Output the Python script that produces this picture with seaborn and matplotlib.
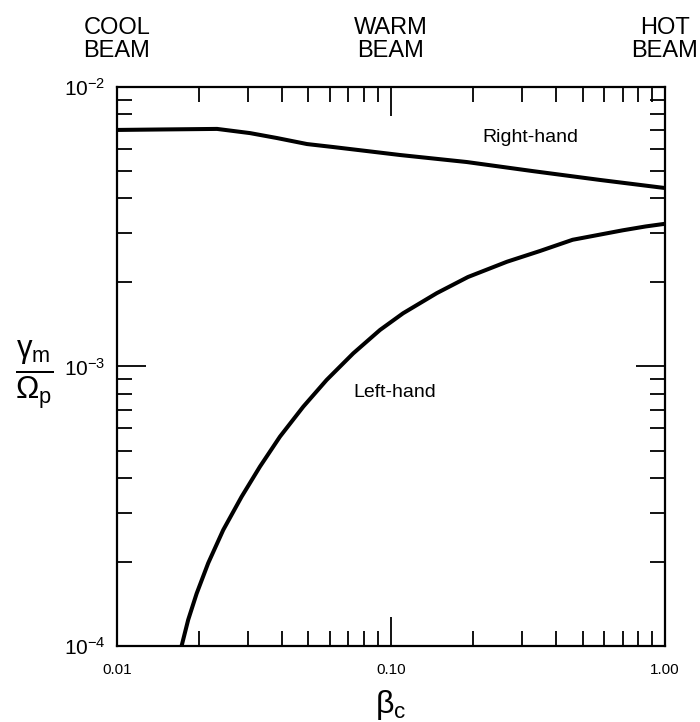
import numpy as np
import pandas as pd
import matplotlib
matplotlib.use("Agg")
import matplotlib.pyplot as plt
from matplotlib.ticker import FixedLocator, LogLocator, NullFormatter
import seaborn as sns

# Maximum growth rate versus beam temperature for the two polarisations
beta_right = [0.01, 0.015, 0.0232, 0.0306, 0.0383, 0.0494, 0.0614, 0.0817,
              0.108, 0.189, 0.330, 0.579, 1.0]
gamma_right = [7.02e-3, 7.05e-3, 7.08e-3, 6.84e-3, 6.57e-3, 6.25e-3, 6.10e-3,
               5.90e-3, 5.71e-3, 5.39e-3, 5.00e-3, 4.65e-3, 4.35e-3]

beta_left = [0.01722, 0.0182, 0.01954, 0.02154, 0.02443, 0.02851, 0.03325,
             0.03935, 0.04786, 0.05825, 0.07283, 0.0912, 0.1107, 0.147,
             0.191, 0.265, 0.35, 0.46, 0.70, 0.85, 1.0]
gamma_left = [1.0e-4, 1.24e-4, 1.54e-4, 1.98e-4, 2.60e-4, 3.42e-4, 4.38e-4,
              5.61e-4, 7.18e-4, 8.95e-4, 1.114e-3, 1.351e-3, 1.55e-3, 1.83e-3,
              2.09e-3, 2.37e-3, 2.59e-3, 2.84e-3, 3.07e-3, 3.17e-3, 3.24e-3]

x_ticks = [0.01, 0.1, 1.0]
x_tick_labels = ["0.01", "0.10", "1.00"]
y_ticks = [1e-4, 1e-3, 1e-2]
y_tick_labels = [r"$10^{-4}$", r"$10^{-3}$", r"$10^{-2}$"]
regime_labels = ["COOL\nBEAM", "WARM\nBEAM", "HOT\nBEAM"]

df = pd.concat([
    pd.DataFrame({"beta": beta_right, "gamma": gamma_right, "mode": "Right-hand"}),
    pd.DataFrame({"beta": beta_left, "gamma": gamma_left, "mode": "Left-hand"}),
], ignore_index=True)

sns.set_theme(style="ticks")
plt.rcParams["font.family"] = ["Liberation Sans", "DejaVu Sans"]
plt.rcParams["mathtext.fontset"] = "custom"
plt.rcParams["mathtext.rm"] = "Liberation Sans"
plt.rcParams["mathtext.it"] = "Liberation Sans"
plt.rcParams["mathtext.bf"] = "Liberation Sans:bold"
for key in ["text.color", "axes.labelcolor", "xtick.color", "ytick.color",
            "axes.edgecolor"]:
    plt.rcParams[key] = "black"

fig = plt.figure(figsize=(7.0, 7.22), dpi=100)
ax = fig.add_axes([0.167, 0.1053, 0.783, 0.7742])

sns.lineplot(data=df, x="beta", y="gamma", hue="mode",
             palette={"Right-hand": "black", "Left-hand": "black"},
             linewidth=2.9, legend=False, ax=ax, sort=False,
             estimator=None, solid_joinstyle="round", solid_capstyle="butt")

ax.set_xscale("log")
ax.set_yscale("log")
ax.set_xlim(0.01, 1.0)
ax.set_ylim(1e-4, 1e-2)

ax.xaxis.set_major_locator(FixedLocator(x_ticks))
ax.set_xticklabels(x_tick_labels)
ax.yaxis.set_major_locator(FixedLocator(y_ticks))
ax.set_yticklabels(y_tick_labels)
ax.xaxis.set_minor_locator(LogLocator(base=10, subs=np.arange(2, 10)))
ax.yaxis.set_minor_locator(LogLocator(base=10, subs=np.arange(2, 10)))
ax.xaxis.set_minor_formatter(NullFormatter())
ax.yaxis.set_minor_formatter(NullFormatter())

ax.tick_params(which="both", direction="in", top=True, right=True,
               color="black", width=1.3)
ax.tick_params(which="major", length=21)
ax.tick_params(which="minor", length=11)
ax.tick_params(axis="x", which="major", labelsize=11, pad=12)
ax.tick_params(axis="y", which="major", labelsize=15, pad=8)

for side in ax.spines.values():
    side.set_visible(True)
    side.set_linewidth(1.6)
    side.set_color("black")

ax.set_xlabel(r"$\beta_c$", fontsize=23, labelpad=8)
ax.set_ylabel(r"$\frac{\gamma_m}{\Omega_p}$", fontsize=32, rotation=0,
              ha="center", va="center")
ax.yaxis.set_label_coords(-0.150, 0.485)

ax.text(0.3216, 6.57e-3, "Right-hand", fontsize=14, ha="center", va="center")
ax.text(0.1034, 8.04e-4, "Left-hand", fontsize=14, ha="center", va="center")

for xv, lab in zip(x_ticks, regime_labels):
    ax.annotate(lab, xy=(xv, 1.0), xycoords=("data", "axes fraction"),
                xytext=(0, 18), textcoords="offset points",
                ha="center", va="bottom", fontsize=17, linespacing=1.05)

fig.savefig("out.png", dpi=100)
